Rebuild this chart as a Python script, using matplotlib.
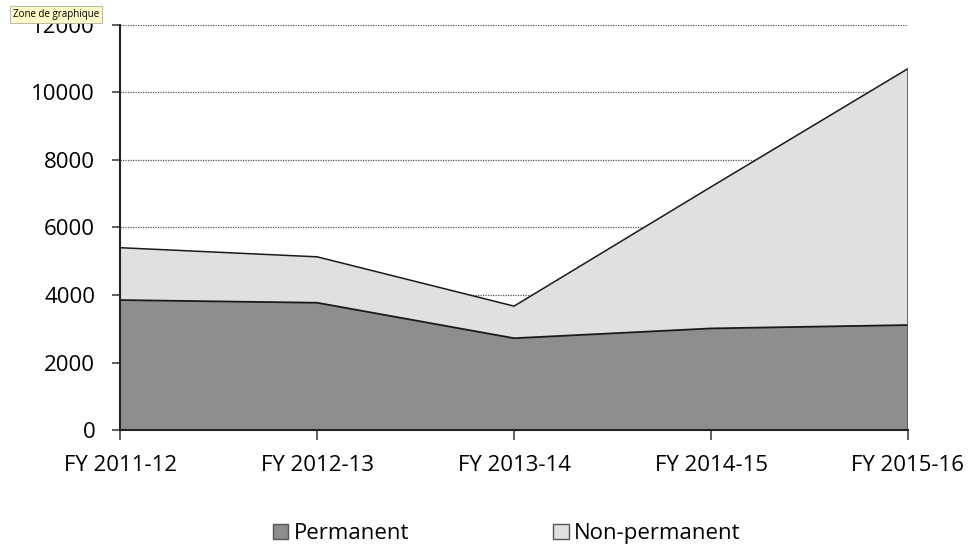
import matplotlib.pyplot as plt
import numpy as np

plt.rcParams['font.family'] = ['Open Sans', 'DejaVu Sans']

years = ["FY 2011-12", "FY 2012-13", "FY 2013-14", "FY 2014-15", "FY 2015-16"]
permanent = [3850, 3770, 2720, 3010, 3110]
non_permanent = [1550, 1360, 950, 4190, 7590]
yticks = [0, 2000, 4000, 6000, 8000, 10000, 12000]

x = np.arange(len(years))
perm = np.array(permanent)
total = perm + np.array(non_permanent)

fig = plt.figure(figsize=(9.69, 5.5), dpi=100)
ax = fig.add_axes([0.124, 0.218, 0.813, 0.737])

ax.fill_between(x, 0, perm, facecolor='#8e8e8e', edgecolor='none', zorder=2)
ax.fill_between(x, perm, total, facecolor='#e0e0e0', edgecolor='none', zorder=2)
ax.plot(x, perm, color='#1a1a1a', lw=1.3, zorder=3)
ax.plot(x, total, color='#1a1a1a', lw=1.1, zorder=3)
ax.plot([x[-1], x[-1]], [0, total[-1]], color='#555555', lw=1.2, zorder=3)

ax.set_xlim(x[0], x[-1])
ax.set_ylim(0, 12000)
ax.set_xticks(x)
ax.set_xticklabels(years)
ax.set_yticks(yticks)
ax.yaxis.grid(True, linestyle=(0, (1, 1)), color='#555555', lw=0.9, zorder=1)
ax.set_axisbelow(True)

for s in ['top', 'right']:
    ax.spines[s].set_visible(False)
for s in ['left', 'bottom']:
    ax.spines[s].set_color('#222222')
    ax.spines[s].set_linewidth(1.5)
    ax.spines[s].set_zorder(4)

ax.tick_params(axis='x', direction='out', length=7, width=1.2, color='#444444',
               labelsize=16, pad=11)
ax.tick_params(axis='y', direction='out', length=6, width=1.2, color='#444444',
               labelsize=16, pad=12)

h1 = plt.Rectangle((0, 0), 1, 1, facecolor='#8e8e8e', edgecolor='#555555')
h2 = plt.Rectangle((0, 0), 1, 1, facecolor='#e0e0e0', edgecolor='#555555')
fig.legend([h1, h2], ["Permanent", "Non-permanent"], loc='center',
           bbox_to_anchor=(0.523, 0.03), ncol=2, frameon=False, fontsize=16,
           handlelength=0.68, handleheight=0.68, handletextpad=0.23,
           columnspacing=6.5)

fig.text(0.013, 0.973, "Zone de graphique", fontsize=7, va='center', ha='left',
         bbox=dict(boxstyle='square,pad=0.3', facecolor='#fbfbc8',
                   edgecolor='#b0b0a0', lw=0.6), zorder=10)

plt.savefig('out.png', dpi=100)
